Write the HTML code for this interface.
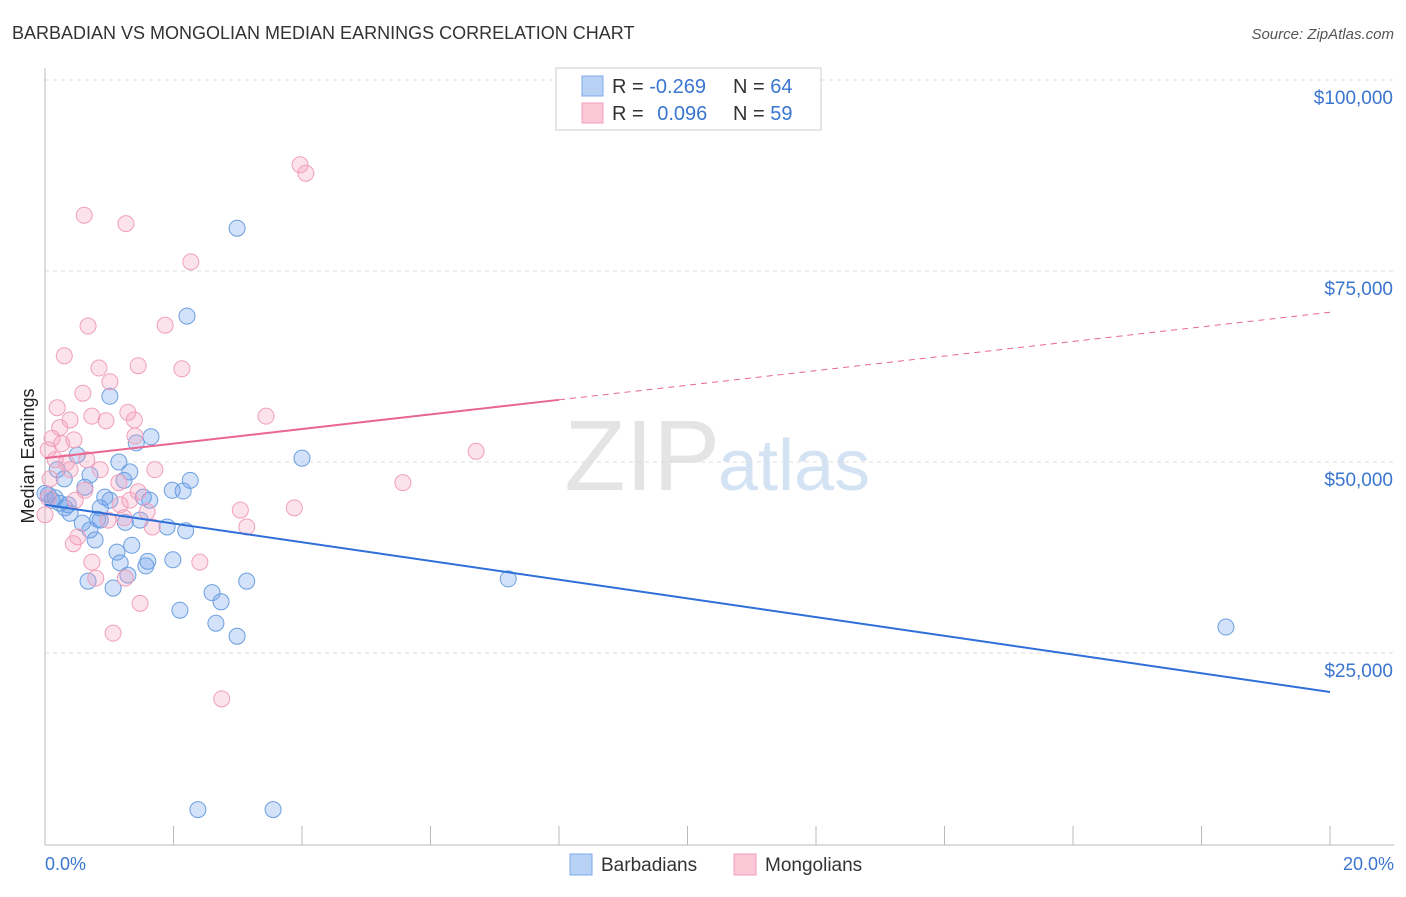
<!DOCTYPE html>
<html><head><meta charset="utf-8"><style>
body{margin:0;background:#fff;font-family:"Liberation Sans",sans-serif;}
svg text{font-family:"Liberation Sans",sans-serif;}
</style></head><body>
<svg id="chart" width="1406" height="892">
<text x="12" y="39" font-size="18" fill="#333">BARBADIAN VS MONGOLIAN MEDIAN EARNINGS CORRELATION CHART</text>
<text x="1394" y="39" font-size="15" fill="#555" font-style="italic" text-anchor="end">Source: ZipAtlas.com</text>
<text x="720" y="490" font-size="100" fill="#e4e4e4" text-anchor="end" font-family="Liberation Serif">ZIP</text>
<text x="718" y="490" font-size="72" fill="#d4e3f3">atlas</text>
<text transform="translate(34,456) rotate(-90)" font-size="18" fill="#222" text-anchor="middle">Median Earnings</text>
<g id="grid"></g><g id="pts"></g><g id="lines"></g>
<g>
<rect x="556" y="68" width="265" height="62" fill="#fff" stroke="#ccc"/>
<rect x="582" y="76" width="21" height="20" fill="#b8d2f5" stroke="#7eaaea"/>
<rect x="582" y="103" width="21" height="20" fill="#fcc8d8" stroke="#f0a0bb"/>
<text x="612" y="93" font-size="20" fill="#333">R = <tspan fill="#3a75d0">-0.269</tspan></text>
<text x="733" y="93" font-size="20" fill="#333">N = <tspan fill="#3a75d0">64</tspan></text>
<text x="612" y="120" font-size="20" fill="#333">R = <tspan fill="#3a75d0" dx="8">0.096</tspan></text>
<text x="733" y="120" font-size="20" fill="#333">N = <tspan fill="#3a75d0">59</tspan></text>
</g>
<g>
<rect x="570" y="854" width="22" height="21" fill="#b8d2f5" stroke="#7eaaea"/>
<text x="601" y="871" font-size="19" fill="#333">Barbadians</text>
<rect x="734" y="854" width="22" height="21" fill="#fcc8d8" stroke="#f0a0bb"/>
<text x="765" y="871" font-size="19" fill="#333">Mongolians</text>
</g>
<text x="45" y="870" font-size="18" fill="#3a75d0">0.0%</text>
<text x="1394" y="870" font-size="18" fill="#3a75d0" text-anchor="end">20.0%</text>
</svg>
<script>
const blueX=[2.99,2.21,1.01,1.65,1.42,4.00,0.50,1.15,1.32,0.30,0.70,1.23,2.26,1.98,2.15,1.53,0.93,0.05,0.16,0.23,0.36,0.11,0,0.86,0.39,0.82,1.25,1.48,0.58,1.90,2.19,0.70,0.78,1.35,1.12,1.60,1.99,1.17,1.57,1.29,3.14,7.21,0.67,1.06,2.60,2.74,2.10,2.66,2.99,18.38,2.38,3.55,0.19,1.01,0.62,0.31,1.63,0.86];
const blueY=[80600,69100,58600,53300,52500,50500,50900,50000,48700,47800,48300,47600,47600,46300,46200,45400,45400,45700,45300,44600,44400,45000,45900,44000,43300,42500,42100,42400,42000,41500,41000,41100,39800,39100,38200,37000,37200,36800,36400,35200,34400,34700,34400,33500,32900,31700,30600,28900,27200,28400,4500,4500,49000,45000,46700,44000,45000,42400];
const pinkX=[3.97,4.06,0.61,1.26,2.27,0.67,1.87,0.30,0.84,1.45,2.13,1.01,0.59,0.19,1.29,3.44,0.39,0.73,0.95,1.39,1.40,0.11,0.26,0.05,0.45,0.65,0.33,6.71,1.71,0.39,1.15,5.57,0.62,1.45,0.05,1.17,1.59,3.04,3.88,0.98,1.23,1.67,3.14,0.44,0.51,0.73,2.41,1.25,0.79,1.48,1.06,2.75,0.16,0,0.08,0.86,0.23,0.47,1.32];
const pinkY=[88900,87800,82300,81200,76200,67800,67900,63900,62300,62600,62200,60500,59000,57100,56500,56000,55500,56000,55400,55500,53400,53100,52400,51600,52900,50300,49900,51400,49000,49000,47300,47300,46300,46100,45300,44400,43500,43700,44000,42400,42700,41500,41500,39300,40200,36900,36900,34800,34800,31500,27600,19000,50300,43100,47800,49000,54500,45000,45000];
const yTicks=[25000,50000,75000,100000];
const yTickLabels=["$25,000","$50,000","$75,000","$100,000"];
const xTicks=[0,2,4,6,8,10,12,14,16,18,20];
const blueTrend=[44400,19900];
const pinkTrend=[50500,69600];
const pinkSolidEnd=8;
const NS="http://www.w3.org/2000/svg";
const X=v=>45+v*64.25, Y=v=>844-v*191/25000;
function mk(t,a,p){const e=document.createElementNS(NS,t);for(const k in a)e.setAttribute(k,a[k]);p.appendChild(e);return e;}
const g=document.getElementById('grid');
yTicks.forEach((t,i)=>{
 const l=mk('line',{x1:45,x2:1394,y1:Y(t),y2:Y(t),stroke:'#ddd','stroke-dasharray':'4,4'},g);
 
 
 const tx=mk('text',{x:1393,y:Y(t)+24,'font-size':19,fill:'#3a75d0','text-anchor':'end'},g);
 tx.textContent=yTickLabels[i];
 
 
});
mk('line',{x1:45,x2:1394,y1:845,y2:845,stroke:'#bbb'},g);
mk('line',{x1:45,x2:45,y1:68,y2:845,stroke:'#bbb'},g);
xTicks.forEach(t=>{
 const l=mk('line',{x1:X(t),x2:X(t),y1:826,y2:845,stroke:'#bbb'},g);
 
 
});
const p=document.getElementById('pts');
blueX.forEach((x,i)=>{
 const c=mk('circle',{cx:X(x),cy:Y(blueY[i]),r:8,fill:'rgba(110,160,235,0.3)',stroke:'#6b9fe0','stroke-width':1},p);
 
 
});
pinkX.forEach((x,i)=>{
 const c=mk('circle',{cx:X(x),cy:Y(pinkY[i]),r:8,fill:'rgba(245,160,190,0.3)',stroke:'#f0a0bb','stroke-width':1},p);
 
 
});
const L=document.getElementById('lines');
const bl=mk('line',{x1:X(0),y1:Y(blueTrend[0]),x2:X(20),y2:Y(blueTrend[1]),stroke:'#2e6fd8','stroke-width':2},L);


const pm=pinkTrend[0]+(pinkTrend[1]-pinkTrend[0])*pinkSolidEnd/20;
const pl=mk('line',{x1:X(0),y1:Y(pinkTrend[0]),x2:X(pinkSolidEnd),y2:Y(pm),stroke:'#e8668f','stroke-width':2},L);


const pd=mk('line',{x1:X(pinkSolidEnd),y1:Y(pm),x2:X(20),y2:Y(pinkTrend[1]),stroke:'#e8668f','stroke-width':1,'stroke-dasharray':'6,5'},L);


</script>
</body></html>
